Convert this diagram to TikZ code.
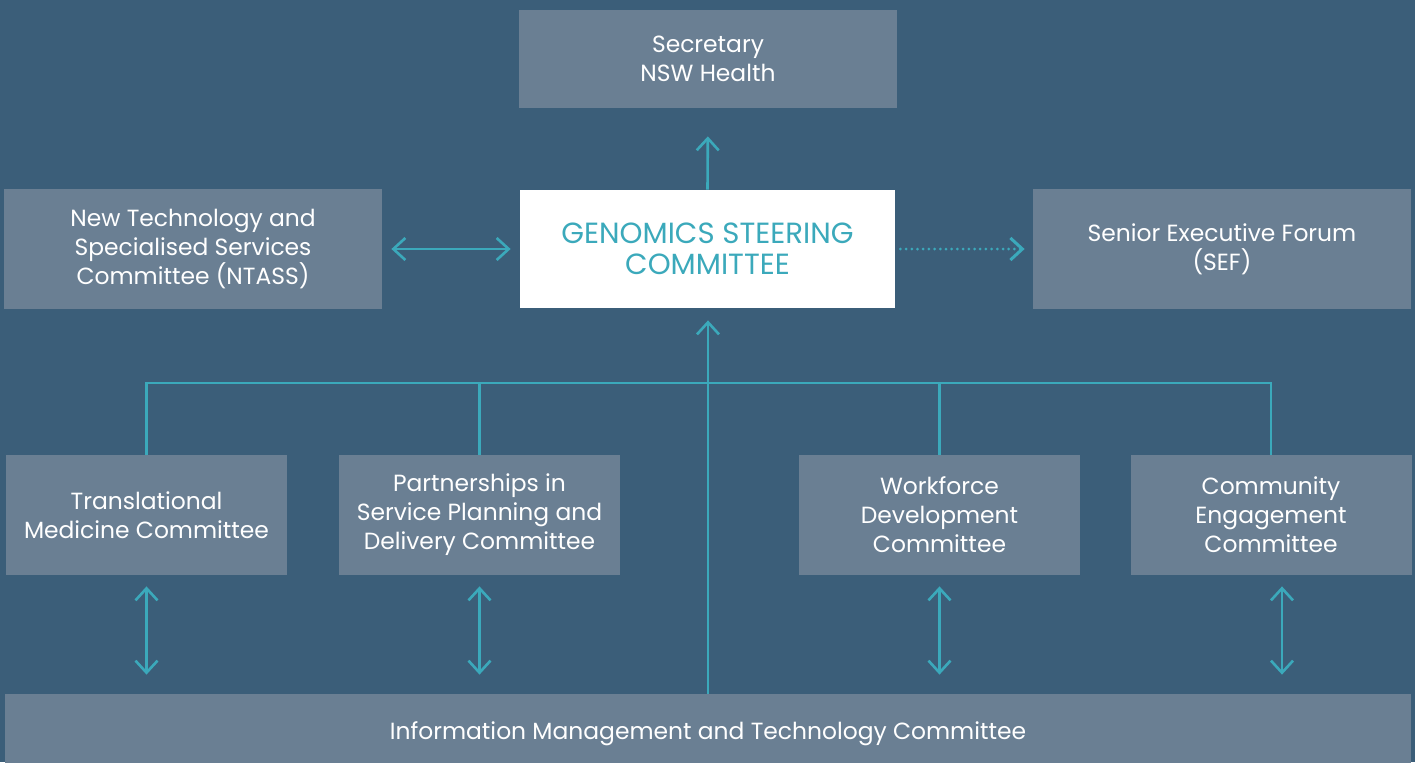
\documentclass[tikz,border=0pt]{standalone}
\usepackage{fontspec}
\setmainfont{Poppins}
\usetikzlibrary{arrows.meta, positioning, calc}
\definecolor{azulfondo}{HTML}{3B5E79}
\definecolor{grisazul}{HTML}{6A7F93}
\definecolor{turquesa}{HTML}{3BA9BB}
\colorlet{colFondo}{azulfondo}
\colorlet{colCaja}{grisazul}
\colorlet{colLinea}{turquesa}
\tikzset{
  cajaBase/.style={
    fill=colCaja, inner sep=0pt,
    align=center, text=white,
    font=\fontsize{11.7}{14.5}\selectfont
  },
  cajaAncha/.style={cajaBase, minimum width=189pt, minimum height=60pt},
  cajaComite/.style={cajaBase, minimum width=140.5pt, minimum height=60pt},
  cajaCentral/.style={cajaBase, fill=white, text=colLinea,
    minimum width=187.5pt, minimum height=59pt,
    font=\fontsize{14.6}{15.5}\selectfont},
  linea/.style={colLinea, line width=1.3pt},
  flechaSimple/.style={linea, -{Straight Barb[length=6pt, width=11pt]}},
  flechaDoble/.style={linea, {Straight Barb[length=6pt, width=11pt]}-{Straight Barb[length=6pt, width=11pt]}},
  flechaPuntos/.style={linea, line width=1.5pt, line cap=round,
    dash pattern=on 0pt off 2.85pt, -{Straight Barb[length=6pt, width=11pt, line cap=butt]}},
}
\begin{document}
\begin{tikzpicture}[x=0.5pt, y=-0.5pt]
  \clip (0,0) rectangle (1415,762);
  \fill[colFondo] (0,0) rectangle (1415,762);
  % fila superior
  \node[cajaAncha, minimum height=49pt] (secretaria) at (708,59) {Secretary\\NSW Health};
  \node[cajaCentral] (gsc) at (707.5,249) {GENOMICS STEERING\\COMMITTEE};
  \node[cajaAncha] (ntass) at (193,249) {New Technology and\\Specialised Services\\Committee (NTASS)};
  \node[cajaAncha] (sef) at (1222,249) {Senior Executive Forum\\(SEF)};
  % comites
  \node[cajaComite] (tmc) at (146.5,515) {Translational\\Medicine Committee};
  \node[cajaComite] (pspd) at (479.5,515) {Partnerships in\\Service Planning and\\Delivery Committee};
  \node[cajaComite] (wdc) at (939.5,515) {Workforce\\Development\\Committee};
  \node[cajaComite] (cec) at (1271,515) {Community\\Engagement\\Committee};
  \node[cajaBase, minimum width=703pt, minimum height=40pt] (imt) at (708,734)
    {Information Management and Technology Committee};
  \coordinate (bus) at (708,383);
  % conexiones
  \draw[flechaSimple, shorten >=14pt] (gsc.north) -- (secretaria.south);
  \draw[flechaDoble, shorten <=4.5pt, shorten >=4.5pt] (ntass.east) -- (gsc.west);
  \draw[flechaPuntos, shorten <=2.5pt, shorten >=4pt] (gsc.east) -- (sef.west);
  \draw[linea] (tmc.north) |- (bus) -| (cec.north);
  \draw[linea] (pspd.north) -- (pspd.north |- bus);
  \draw[linea] (wdc.north) -- (wdc.north |- bus);
  \draw[flechaSimple, shorten >=6pt] (imt.north) -- (imt.north |- gsc.south);
  \foreach \c/\d in {tmc/0, pspd/0, wdc/0, cec/5.5}
    \draw[flechaDoble, shorten <=5.5pt, shorten >=9.5pt]
      ([xshift=\d pt]\c.south) -- ([xshift=\d pt]\c.south |- imt.north);
\end{tikzpicture}
\end{document}
